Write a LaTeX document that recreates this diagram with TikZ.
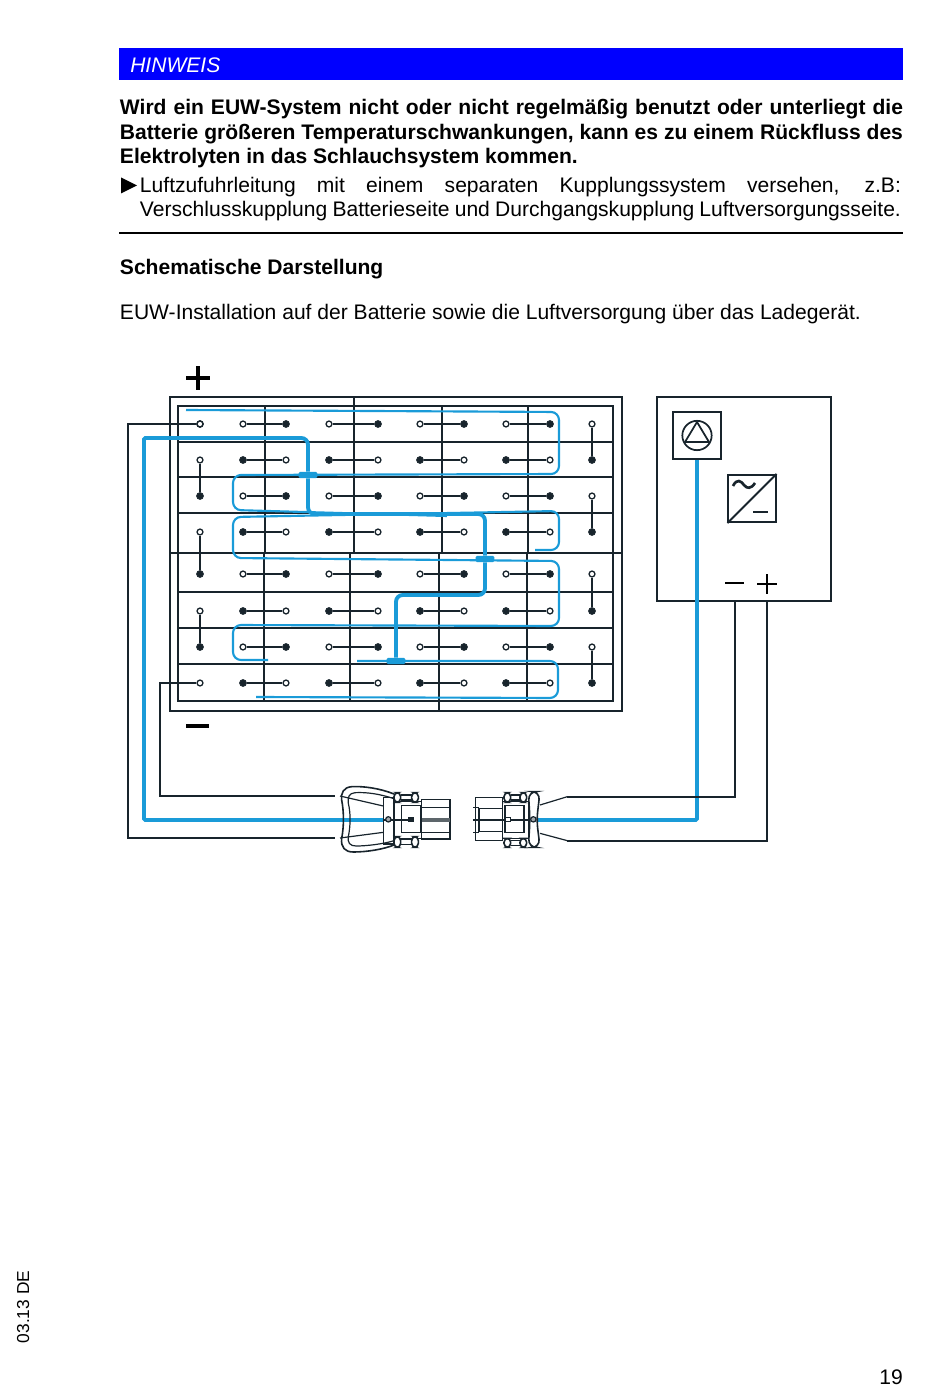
\documentclass[tikz,border=0pt]{standalone}
\usepackage{fontspec}
\setmainfont{Liberation Sans}
\usetikzlibrary{shapes.geometric, arrows}
\definecolor{hose}{HTML}{1A9BD8}
\definecolor{wire}{HTML}{18242C}
\tikzstyle{line} = [draw=wire,line width=1.05pt]
\tikzstyle{lead} = [draw=wire,line width=0.85pt]
\tikzstyle{frame} = [draw=wire,line width=1.4pt]
\tikzstyle{hosethin} = [draw=hose,line width=1.6pt,rounded corners=6pt]
\tikzstyle{hosethick} = [draw=hose,line width=2.9pt,rounded corners=5pt]
\tikzstyle{tee} = [draw=none,fill=hose,rectangle,rounded corners=1pt,minimum width=14pt,minimum height=4.8pt,inner sep=0pt]
\tikzstyle{termo} = [circle,draw=wire,fill=white,line width=1pt,minimum size=4.4pt,inner sep=0pt]
\tikzstyle{termf} = [circle,draw=wire,fill=wire,line width=0.5pt,minimum size=5.2pt,inner sep=0pt]
\tikzstyle{bodytext} = [anchor=base west,inner sep=0pt,font=\fontsize{15.8}{18}\selectfont]
\tikzstyle{boldtext} = [anchor=base west,inner sep=0pt,font=\fontsize{15.8}{18}\selectfont\bfseries]
\begin{document}
\begin{tikzpicture}[x=0.75pt,y=-0.75pt]
    \useasboundingbox (0,0) rectangle (950,1387);

    % Text
    \fill[blue] (119,48) rectangle (903,80);
    \node[anchor=base west,inner sep=0pt,text=white,font=\fontsize{15.8}{18}\selectfont\itshape] (title) at (130,73) {HINWEIS};
    \node[boldtext] (warnA) at (119.7,115) {\makebox[587.25pt][s]{Wird ein EUW-System nicht oder nicht regelmäßig benutzt oder unterliegt die}};
    \node[boldtext] (warnB) at (119.7,140) {\makebox[587.25pt][s]{Batterie größeren Temperaturschwankungen, kann es zu einem Rückfluss des}};
    \node[boldtext] (warnC) at (119.7,164) {Elektrolyten in das Schlauchsystem kommen.};
    \fill[black] (121,177.5) -- (137,185.5) -- (121,193.5) -- cycle;
    \node[bodytext] (stepA) at (139.7,193) {\makebox[570.75pt][s]{Luftzufuhrleitung mit einem separaten Kupplungssystem versehen, z.B:}};
    \node[bodytext] (stepB) at (139.7,217) {\makebox[570.75pt][s]{Verschlusskupplung Batterieseite und Durchgangskupplung Luftversorgungsseite.}};
    \draw[black,line width=0.9pt] (119,233) -- (903,233);
    \node[boldtext] (head) at (119.7,275) {Schematische Darstellung};
    \node[bodytext] (intro) at (119.7,320) {EUW-Installation auf der Batterie sowie die Luftversorgung über das Ladegerät.};
    \node[anchor=base,inner sep=0pt,rotate=90,font=\fontsize{13}{15}\selectfont] (date) at (29,1307) {03.13 DE};
    \node[anchor=base,inner sep=0pt,font=\fontsize{15.8}{18}\selectfont] (page) at (891,1384) {19};

    % Battery frame
    \draw[frame] (170,397) rectangle (622,711);
    \draw[frame] (178,406) rectangle (613,701);
    \foreach \y in {442,477,513,592,628,664}
        \draw[line] (178,\y) -- (613,\y);
    \draw[frame] (170,553) -- (622,553);
    \foreach \x in {265,442,528}
        \draw[line] (\x,406) -- (\x,553);
    \draw[line] (354,397) -- (354,553);
    \foreach \x in {264,350,527}
        \draw[line] (\x,553) -- (\x,701);
    \draw[line] (439,553) -- (439,711);

    % Hoses
    \coordinate (hoseA) at (186,410);
    \coordinate (hoseB) at (447,516);
    \coordinate (hoseC) at (535,550);
    \coordinate (hoseD) at (268,660);
    \coordinate (hoseE) at (357,661);
    \coordinate (hoseF) at (256,697);
    \coordinate (plugL) at (345,820);
    \coordinate (plugR) at (538,820);
    \node[tee] (teeA) at (308,475) {};
    \node[tee] (teeB) at (485,559) {};
    \node[tee] (teeC) at (396,661) {};
    \draw[hosethin] (hoseA) -- (559,412) -- (559,474) -- (233,475) -- (233,510) -- (hoseB);
    \draw[hosethin] (hoseC) -- (559,550) -- (559,511) -- (233,517) -- (233,558) -- (559,561) -- (559,626) -- (233,625) -- (233,660) -- (hoseD);
    \draw[hosethin] (hoseE) -- (558,661) -- (558,698) -- (hoseF);
    \draw[hosethick,rounded corners=1pt] (plugL) -- (144,820) -- (144,438) [rounded corners=5pt] -- (308,438) -- (teeA);
    \draw[hosethick] (teeA) -- (308,514) -- (485,514) -- (teeB);
    \draw[hosethick] (teeB) -- (485,595) -- (396,595) -- (teeC);

    % Terminals
    \foreach \r/\y in {1/424,3/496,5/574,7/647} {
        \node[termf] (a\r) at (200,\y) {};
        \foreach \c/\xa/\xb in {1/243/286,2/329/378,3/420/464,4/506/550} {
            \node[termo] (p\r\c) at (\xa,\y) {};
            \node[termf] (q\r\c) at (\xb,\y) {};
            \draw[line] (p\r\c) -- (q\r\c);
        }
        \node[termo] (b\r) at (592,\y) {};
    }
    \foreach \r/\y in {2/460,4/532,6/611,8/683} {
        \node[termo] (a\r) at (200,\y) {};
        \foreach \c/\xa/\xb in {1/243/286,2/329/378,3/420/464,4/506/550} {
            \node[termf] (p\r\c) at (\xa,\y) {};
            \node[termo] (q\r\c) at (\xb,\y) {};
            \draw[line] (p\r\c) -- (q\r\c);
        }
        \node[termf] (b\r) at (592,\y) {};
    }
    \node[termo] (a1) at (200,424) {};
    \draw[line] (a2) -- (a3);
    \draw[line] (a4) -- (a5);
    \draw[line] (a6) -- (a7);
    \draw[line] (b1) -- (b2);
    \draw[line] (b3) -- (b4);
    \draw[line] (b5) -- (b6);
    \draw[line] (b7) -- (b8);

    % Poles
    \draw[black,line width=2.6pt] (186,378) -- (210,378);
    \draw[black,line width=2.6pt] (198,366) -- (198,390);
    \draw[black,line width=2.6pt] (186,726) -- (209,726);

    % Charger
    \draw[frame] (657,397) rectangle (831,601);
    \node[draw=wire,line width=1.4pt,minimum size=35.5pt,inner sep=0pt] (pump) at (697,435.5) {};
    \node[draw=wire,line width=1.3pt,circle,minimum size=22pt,inner sep=0pt] (pumpring) at (697,435.5) {};
    \draw[frame,line width=1.3pt,line join=round] (697,422) -- (709,442) -- (685,442) -- cycle;
    \node[draw=wire,line width=1.4pt,minimum size=35.5pt,inner sep=0pt] (inverter) at (752,498.5) {};
    \draw[frame] (inverter.south west) -- (inverter.north east);
    \draw[wire,line width=2pt] (733,486) .. controls (737,478) and (741,481) .. (744,485) .. controls (747,489) and (751,489) .. (755,483);
    \draw[wire,line width=1.6pt] (753,512) -- (768,512);
    \draw[black,line width=2pt] (725,583) -- (744,583);
    \draw[black,line width=2.2pt] (757,584) -- (777,584);
    \draw[black,line width=2.2pt] (767,574) -- (767,594);
    \draw[hosethick,rounded corners=1pt] (pump.south) -- (pump.south |- plugR) -- (plugR);

    % Leads
    \coordinate (leadA) at (335,838);
    \coordinate (leadB) at (335,796);
    \coordinate (leadC) at (567,797);
    \coordinate (leadD) at (567,841);
    \draw[lead] (a1) -- (128,424) -- (128,838) -- (leadA);
    \draw[lead] (a8) -- (160,683) -- (160,796) -- (leadB);
    \draw[lead] (735,601) -- (735,797) -- (leadC);
    \draw[lead] (767,601) -- (767,841) -- (leadD);

    % Plug on battery side
    \begin{scope}[shift={(320,770)},x=0.25pt,y=-0.25pt,line width=0.9pt,draw=wire]
        \draw[hosethick,rounded corners=0pt] (25,150) -- (190,150);
        \draw (60,78) -- (190,108);
        \draw (60,204) -- (190,187);
        \draw[line width=1.2pt] (222,72) .. controls (180,55) and (130,48) .. (95,50) .. controls (70,52) and (62,70) .. (65,90) .. controls (72,125) and (72,170) .. (65,205) .. controls (62,232) and (75,246) .. (100,246) .. controls (140,246) and (190,238) .. (222,225);
        \draw (222,86) .. controls (180,72) and (140,66) .. (105,68) .. controls (88,70) and (82,80) .. (85,100) .. controls (92,130) and (92,165) .. (85,200) .. controls (82,218) and (90,228) .. (108,228) .. controls (140,228) and (190,222) .. (222,212);
        \draw[line width=1.2pt] (190,82) rectangle (222,222);
        \draw[line width=1.2pt] (222,95) rectangle (305,205);
        \draw[line width=1.2pt] (245,107) rectangle (303,187);
        \fill[wire] (265,142) rectangle (282,155);
        \draw[line width=1.2pt] (305,88) rectangle (390,207);
        \draw (305,112) -- (390,112);
        \draw (305,187) -- (390,187);
        \draw[line width=2.4pt,draw=wire!70] (305,150) -- (390,150);
        \draw (190,150) -- (265,150);
        \draw[fill=wire!40] (205,148) circle (8);
        \foreach \x in {232,285} {
            \draw[line width=1.2pt,fill=white,rounded corners=3pt] (\x-10,68) rectangle (\x+10,97);
            \draw[line width=1.2pt,fill=white,rounded corners=3pt] (\x-10,200) rectangle (\x+10,232);
        }
        \draw (242,75) -- (275,75);
        \draw (242,90) -- (275,90);
        \draw (242,208) -- (275,208);
        \draw (242,224) -- (275,224);
    \end{scope}

    % Plug on charger side
    \begin{scope}[shift={(320,770)},x=0.25pt,y=-0.25pt,line width=0.9pt,draw=wire]
        \draw[hosethick,rounded corners=0pt] (655,150) -- (730,150);
        \draw (660,105) -- (742,80);
        \draw (660,190) -- (742,212);
        \draw[line width=1.2pt] (467,82) rectangle (548,212);
        \draw (477,115) -- (477,185) -- (548,185);
        \draw (477,115) -- (548,115);
        \draw (460,112) -- (477,112);
        \draw (460,150) -- (555,150);
        \draw (460,187) -- (477,187);
        \draw[line width=1.2pt] (548,95) rectangle (625,205);
        \draw[line width=1.2pt] (555,107) rectangle (612,187);
        \draw (555,143) rectangle (572,155);
        \draw (572,150) -- (630,150);
        \foreach \x in {562,610} {
            \draw[line width=1.2pt,fill=white,rounded corners=3pt] (\x-10,68) rectangle (\x+10,97);
            \draw[line width=1.2pt,fill=white,rounded corners=3pt] (\x-10,205) rectangle (\x+10,232);
        }
        \draw (572,75) -- (600,75);
        \draw (572,90) -- (600,90);
        \draw (572,212) -- (600,212);
        \draw (572,226) -- (600,226);
        \draw[line width=1.2pt,fill=white,rounded corners=6pt] (625,65) -- (660,65) -- (650,150) -- (660,232) -- (625,232) -- (630,150) -- cycle;
        \draw[fill=wire!40] (640,148) circle (8);
    \end{scope}
\end{tikzpicture}
\end{document}
